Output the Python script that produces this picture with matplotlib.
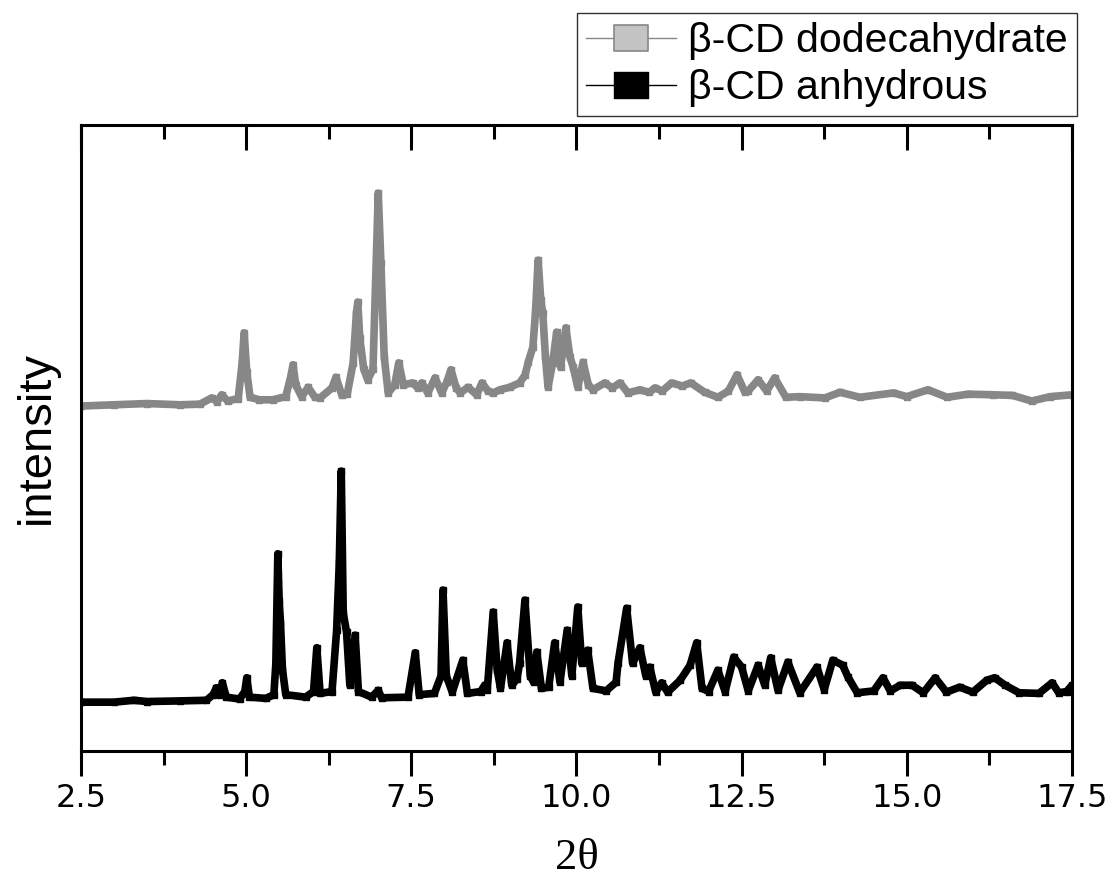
import numpy as np
import matplotlib
matplotlib.use('Agg')
import matplotlib.pyplot as plt
from matplotlib.lines import Line2D
from matplotlib.path import Path

# ── data (2θ, intensity in arbitrary units)
dodeca_2theta = [2.5, 3.0, 3.5, 4.0, 4.3, 4.48, 4.56, 4.63, 4.72, 4.88, 4.94, 4.97, 5.01,
                 5.06, 5.2, 5.4, 5.6, 5.68, 5.71, 5.75, 5.84, 5.94, 6.04, 6.12, 6.3, 6.36,
                 6.45, 6.53, 6.62, 6.67, 6.69, 6.72, 6.78, 6.84, 6.92, 6.96, 7.0, 7.04,
                 7.09, 7.15, 7.25, 7.31, 7.38, 7.52, 7.6, 7.66, 7.75, 7.86, 7.96, 8.04,
                 8.1, 8.18, 8.24, 8.36, 8.49, 8.57, 8.66, 8.74, 8.84, 8.99, 9.14, 9.22,
                 9.27, 9.34, 9.38, 9.42, 9.46, 9.49, 9.53, 9.57, 9.64, 9.7, 9.76, 9.84,
                 9.9, 9.95, 10.02, 10.1, 10.18, 10.25, 10.43, 10.54, 10.66, 10.78, 10.96,
                 11.1, 11.19, 11.3, 11.44, 11.6, 11.73, 11.94, 12.14, 12.3, 12.43, 12.55,
                 12.6, 12.75, 12.88, 13.0, 13.17, 13.38, 13.76, 13.99, 14.29, 14.8, 15.0,
                 15.32, 15.61, 15.93, 16.3, 16.6, 16.89, 17.17, 17.5]
dodeca_int = [55.1, 55.3, 55.5, 55.3, 55.4, 56.4, 55.8, 56.9, 55.9, 56.3, 62.0, 66.8, 60.5,
              56.5, 56.1, 56.1, 56.6, 60.0, 61.7, 58.5, 56.6, 58.1, 56.5, 56.4, 58.0, 59.7,
              56.8, 57.0, 62.0, 70.0, 71.7, 66.0, 61.0, 59.3, 61.0, 75.0, 89.1, 78.0,
              63.0, 57.2, 58.5, 62.0, 58.5, 58.8, 58.0, 58.8, 57.2, 59.6, 57.2, 59.0,
              60.9, 58.0, 57.2, 58.1, 56.9, 58.8, 57.5, 57.2, 57.7, 58.1, 58.8, 60.0,
              62.1, 64.5, 70.0, 78.4, 72.0, 70.0, 63.0, 58.1, 62.0, 66.9, 61.3, 67.6,
              63.0, 61.3, 58.1, 62.1, 58.5, 57.7, 58.8, 58.0, 58.8, 57.2, 57.7,
              57.3, 58.0, 57.5, 58.8, 58.3, 58.8, 57.3, 56.5, 57.5, 60.1, 57.3,
              57.5, 59.3, 57.5, 59.6, 56.5, 56.6, 56.4, 57.3, 56.5, 57.2, 56.6,
              57.7, 56.5, 57.0, 56.9, 56.8, 55.9, 56.6, 56.9]

anhyd_2theta = [2.5, 3.0, 3.3, 3.5, 4.0, 4.4, 4.5, 4.55, 4.6, 4.64, 4.7, 4.9, 4.98, 5.01,
                5.05, 5.3, 5.42, 5.45, 5.48, 5.5, 5.52, 5.55, 5.6, 5.9, 6.02, 6.07, 6.12,
                6.3, 6.37, 6.41, 6.44, 6.47, 6.52, 6.57, 6.65, 6.7, 6.9, 7.0, 7.05, 7.45,
                7.56, 7.62, 7.85, 7.95, 7.98, 8.03, 8.12, 8.28, 8.35, 8.55, 8.61, 8.65,
                8.74, 8.8, 8.85, 8.95, 9.02, 9.1, 9.14, 9.22, 9.3, 9.35, 9.4, 9.47, 9.58,
                9.67, 9.75, 9.86, 9.93, 10.02, 10.08, 10.17, 10.25, 10.45, 10.6, 10.63,
                10.76, 10.85, 10.96, 11.05, 11.11, 11.2, 11.29, 11.38, 11.57, 11.72,
                11.82, 11.9, 12.0, 12.14, 12.25, 12.38, 12.5, 12.6, 12.75, 12.85, 12.94,
                13.05, 13.2, 13.38, 13.64, 13.75, 13.88, 14.03, 14.11, 14.25, 14.5,
                14.64, 14.75, 14.9, 15.08, 15.25, 15.43, 15.6, 15.8, 16.0, 16.21, 16.33,
                16.49, 16.7, 17.0, 17.2, 17.3, 17.42, 17.5]
anhyd_int = [7.8, 7.8, 8.1, 7.9, 8.0, 8.1, 9.0, 10.1, 9.0, 10.9, 8.6, 8.3, 9.5, 11.7,
             8.6, 8.4, 9.0, 14.0, 31.5, 24.0, 20.5, 13.0, 9.0, 8.6, 9.5, 16.5, 9.2,
             9.5, 19.3, 30.0, 44.7, 22.0, 19.0, 10.5, 18.5, 9.5, 8.6, 9.7, 8.5, 8.6,
             15.7, 9.0, 9.2, 12.0, 25.7, 12.0, 9.4, 14.5, 9.2, 9.5, 10.5, 9.8,
             22.2, 13.0, 10.0, 17.3, 10.5, 11.5, 14.1, 24.1, 12.0, 11.0, 15.8, 10.0, 10.2,
             17.3, 11.0, 19.3, 12.0, 23.0, 14.0, 16.1, 10.0, 9.6, 11.0, 14.1,
             22.8, 14.0, 16.5, 12.0, 13.4, 9.4, 10.9, 9.4, 11.3, 13.7,
             17.3, 10.0, 9.5, 12.9, 9.5, 15.0, 13.4, 9.6, 13.7, 10.5, 14.9,
             9.7, 14.2, 9.3, 13.4, 9.8, 14.5, 13.7, 11.8, 9.3, 9.6,
             11.7, 9.6, 10.5, 10.5, 9.3, 11.7, 9.4, 10.2, 9.4, 11.3, 11.7,
             10.5, 9.3, 9.2, 10.9, 9.3, 9.5, 10.5]

series_labels = ['β-CD dodecahydrate', 'β-CD anhydrous']
x_ticks = [2.5, 5.0, 7.5, 10.0, 12.5, 15.0, 17.5]

GRAY = '#878787'

fig = plt.figure(figsize=(11.09, 8.83), dpi=100)
ax = fig.add_axes([0.073, 0.1495, 0.8936, 0.709])

# dense marker band of the original -> thick line + square markers
ax.plot(dodeca_2theta, dodeca_int, color=GRAY, lw=5.5, solid_joinstyle='round',
        solid_capstyle='butt', marker='s', ms=5, mec=GRAY, mfc=GRAY)
ax.plot(anhyd_2theta, anhyd_int, color='black', lw=5.5, solid_joinstyle='round',
        solid_capstyle='butt', marker='s', ms=5, mec='black', mfc='black')

ax.set_xlim(2.5, 17.5)
ax.set_ylim(0, 100)
ax.set_xticks(x_ticks)
ax.set_xticklabels([f"{t:.1f}" for t in x_ticks], fontsize=23, family='DejaVu Sans')
ax.set_xticks(np.arange(3.75, 17.5, 2.5), minor=True)
ax.set_yticks([])
ax.tick_params(axis='x', which='major', direction='out', length=18, width=2.2,
               top=True, pad=5)
ax.tick_params(axis='x', which='minor', direction='out', length=10, width=2.2,
               top=True)
# top ticks point inward
for t in ax.xaxis.get_major_ticks() + ax.xaxis.get_minor_ticks():
    t.tick2line.set_marker(3)
for sp in ax.spines.values():
    sp.set_linewidth(2.2)

ax.set_xlabel('2θ', fontsize=32, family='Liberation Serif', labelpad=17)
ax.set_ylabel('intensity', fontsize=34, family='Liberation Sans', labelpad=16)

# legend with wide rectangular markers like the original
rect = Path([(-1.26, -1), (1.26, -1), (1.26, 1), (-1.26, 1), (-1.26, -1)],
            [Path.MOVETO, Path.LINETO, Path.LINETO, Path.LINETO, Path.CLOSEPOLY])
handles = [
    Line2D([], [], color=GRAY, lw=1, marker=rect, ms=24, mfc='#c4c4c4', mec=GRAY, mew=1.2),
    Line2D([], [], color='black', lw=1, marker=rect, ms=24, mfc='black', mec='black'),
]
leg = fig.legend(handles, series_labels, loc='upper right', bbox_to_anchor=(0.971, 0.985),
                 prop={'family': 'Liberation Sans', 'size': 29.5}, frameon=True,
                 fancybox=False, edgecolor='black', handlelength=2.2, handletextpad=0.3,
                 borderpad=0.22, labelspacing=0.22, borderaxespad=0, numpoints=1)
leg.get_frame().set_linewidth(1.0)

plt.savefig('out.png', dpi=100)
plt.close()
